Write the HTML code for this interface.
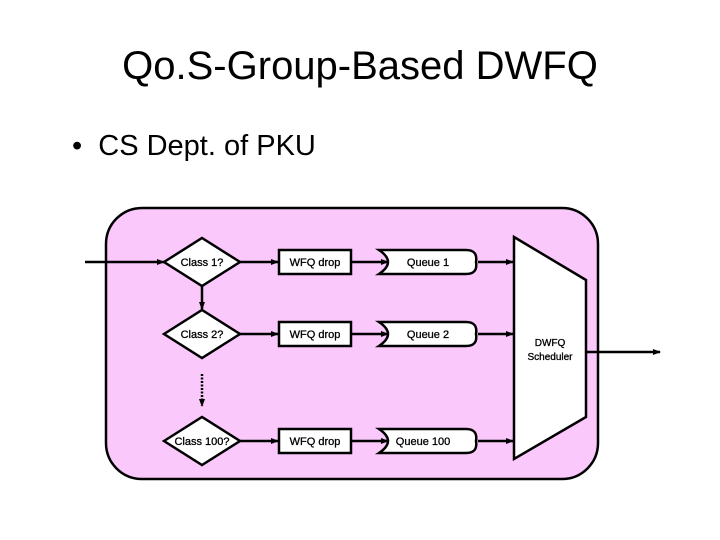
<!DOCTYPE html>
<html><head><style>
body{margin:0;width:720px;height:540px;background:#fff;overflow:hidden;font-family:"Liberation Sans",sans-serif}
</style></head><body>
<div style="position:absolute;left:0;width:720px;top:44px;text-align:center;font-size:40px">Qo.S-Group-Based DWFQ</div>
<div style="position:absolute;left:72px;top:130px;font-size:29px">•&nbsp; CS Dept. of PKU</div>
<svg width="720" height="540" style="position:absolute;left:0;top:0" font-family="Liberation Sans, sans-serif" font-size="11">
<defs><marker id="a" markerWidth="8" markerHeight="8" refX="7" refY="4" orient="auto" markerUnits="userSpaceOnUse"><path d="M0,1 L8,4 L0,7z" fill="#000"/></marker></defs>
<rect x="106" y="208" width="492" height="271" rx="36" fill="#fbc8fb" stroke="#000" stroke-width="2.5"/>
<g stroke="#000" stroke-width="2.5" fill="none">
<line x1="85" y1="262" x2="164" y2="262" marker-end="url(#a)"/>
<line x1="202" y1="286" x2="202" y2="309" marker-end="url(#a)"/>
<line x1="202" y1="374" x2="202" y2="406" stroke-dasharray="2,1.5" marker-end="url(#a)"/>
<line x1="240" y1="262" x2="278" y2="262" marker-end="url(#a)"/>
<line x1="240" y1="334" x2="278" y2="334" marker-end="url(#a)"/>
<line x1="240" y1="441" x2="278" y2="441" marker-end="url(#a)"/>
<line x1="351" y1="262" x2="388" y2="262" marker-end="url(#a)"/>
<line x1="351" y1="334" x2="388" y2="334" marker-end="url(#a)"/>
<line x1="351" y1="441" x2="388" y2="441" marker-end="url(#a)"/>
<line x1="478" y1="262" x2="513" y2="262" marker-end="url(#a)"/>
<line x1="478" y1="334" x2="513" y2="334" marker-end="url(#a)"/>
<line x1="478" y1="441" x2="513" y2="441" marker-end="url(#a)"/>
<line x1="586" y1="352" x2="660" y2="352" marker-end="url(#a)"/>
</g>
<g stroke="#000" stroke-width="2.5" fill="#fff">
<polygon points="164,262 202,238 240,262 202,286"/>
<polygon points="164,334 202,310 240,334 202,358"/>
<polygon points="164,441 202,417 240,441 202,465"/>
<rect x="279" y="250" width="72" height="24"/>
<rect x="279" y="322" width="72" height="24"/>
<rect x="279" y="429" width="72" height="24"/>
<path d="M379,250 H466 Q478,250 476,262 Q478,274 466,274 H379 Q397,262 379,250z"/>
<path d="M379,322 H466 Q478,322 476,334 Q478,346 466,346 H379 Q397,334 379,322z"/>
<path d="M379,429 H466 Q478,429 476,441 Q478,453 466,453 H379 Q397,441 379,429z"/>
<polygon points="514,237 586,280 586,417 514,459"/>
</g>
<g text-anchor="middle" stroke="#000" stroke-width="0.3">
<text x="202" y="266">Class 1?</text>
<text x="202" y="338">Class 2?</text>
<text x="202" y="445">Class 100?</text>
<text x="315" y="266">WFQ drop</text>
<text x="315" y="338">WFQ drop</text>
<text x="315" y="445">WFQ drop</text>
<text x="428" y="266">Queue 1</text>
<text x="428" y="338">Queue 2</text>
<text x="423" y="445">Queue 100</text>
<text x="550" y="346" font-size="10">DWFQ</text>
<text x="550" y="360" font-size="10">Scheduler</text>
</g>
</svg>
</body></html>
